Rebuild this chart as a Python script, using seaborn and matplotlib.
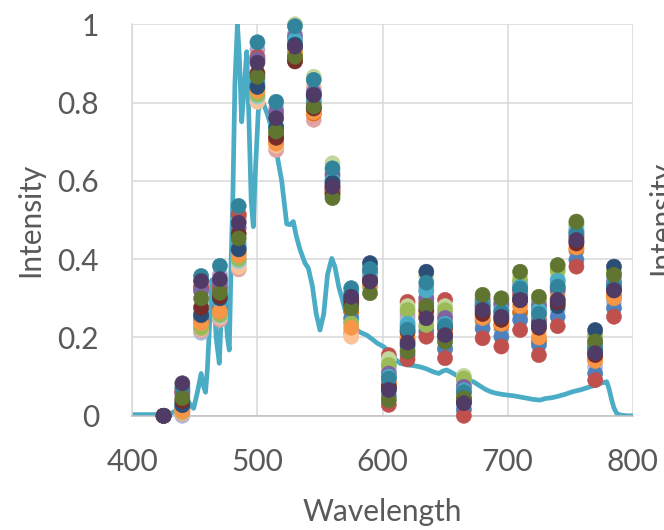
import numpy as np
import pandas as pd
import matplotlib
matplotlib.use("Agg")
import matplotlib.pyplot as plt
import seaborn as sns

# ---------------- data ----------------
wavelengths = [425, 440, 455, 470, 485, 500, 515, 530, 545, 560, 575, 590, 605,
               620, 635, 650, 665, 680, 695, 710, 725, 740, 755, 770, 785]

red_b       = [0, .060, .325, .325, .510, .912, .710, .910, .785, .575, .290, .345, .155, .291, .290, .296, .085, .280, .260, .310, .245, .325, .455, .165, .330]
light_blue  = [0, .000, .212, .249, .388, .812, .700, .925, .770, .575, .215, .330, .060, .170, .225, .175, .020, .240, .220, .260, .195, .270, .420, .125, .290]
pink        = [0, .004, .218, .245, .374, .806, .679, .930, .756, .578, .210, .335, .100, .250, .300, .240, .070, .275, .265, .320, .255, .340, .470, .170, .340]
peach       = [0, .008, .222, .252, .380, .802, .690, .935, .840, .600, .202, .340, .090, .210, .270, .220, .050, .255, .240, .290, .215, .310, .455, .150, .310]
light_green = [0, .030, .280, .290, .398, .820, .730, 1.00, .866, .645, .240, .380, .145, .280, .358, .280, .102, .300, .295, .355, .295, .375, .490, .210, .370]
lavender    = [0, .068, .345, .360, .500, .935, .785, .975, .830, .620, .290, .370, .125, .260, .330, .260, .090, .290, .280, .340, .285, .330, .475, .195, .350]
light_aqua  = [0, .015, .232, .255, .395, .815, .705, .950, .800, .605, .245, .350, .115, .240, .315, .245, .080, .280, .270, .330, .265, .350, .480, .185, .345]
dark_orange = [0, .018, .242, .275, .418, .835, .700, .910, .772, .570, .265, .340, .080, .195, .255, .210, .045, .245, .230, .265, .190, .285, .425, .145, .305]
blue        = [0, .022, .250, .283, .430, .850, .720, .940, .800, .590, .250, .345, .050, .155, .215, .170, .015, .223, .202, .245, .181, .253, .398, .108, .275]
red         = [0, .062, .330, .330, .515, .917, .715, .920, .790, .580, .300, .350, .028, .144, .202, .147, .000, .198, .177, .219, .155, .229, .381, .091, .253]
green       = [0, .010, .224, .258, .400, .820, .720, .930, .780, .570, .236, .330, .130, .270, .232, .270, .095, .290, .290, .345, .290, .370, .488, .205, .365]
purple      = [0, .055, .318, .340, .480, .910, .775, .968, .825, .615, .310, .368, .108, .228, .300, .250, .074, .296, .285, .320, .280, .320, .460, .180, .340]
aqua        = [0, .033, .262, .290, .440, .860, .740, .960, .810, .600, .315, .360, .100, .235, .320, .235, .065, .285, .270, .330, .270, .345, .470, .175, .335]
orange      = [0, .012, .237, .266, .410, .830, .695, .928, .775, .585, .225, .335, .085, .200, .260, .215, .058, .250, .235, .280, .200, .300, .430, .140, .300]
dark_blue   = [0, .027, .257, .300, .425, .840, .735, .948, .820, .595, .285, .390, .070, .180, .368, .200, .035, .265, .250, .300, .235, .280, .445, .219, .381]
dark_red    = [0, .038, .276, .305, .465, .875, .710, .905, .785, .565, .295, .345, .075, .215, .270, .225, .040, .260, .245, .295, .225, .290, .440, .155, .320]
dark_teal   = [0, .072, .357, .383, .536, .954, .802, .995, .858, .632, .326, .375, .095, .220, .340, .230, .060, .280, .265, .325, .260, .330, .465, .170, .330]
dark_green  = [0, .045, .300, .314, .453, .866, .726, .917, .790, .556, .275, .313, .040, .164, .280, .189, .045, .309, .300, .368, .304, .385, .496, .190, .360]
dark_purple = [0, .083, .344, .349, .493, .902, .760, .943, .819, .585, .304, .343, .066, .187, .249, .206, .032, .270, .253, .296, .228, .296, .449, .160, .321]

series_names = ["red_b", "light_blue", "pink", "peach", "light_green", "lavender",
                "light_aqua", "dark_orange", "blue", "red", "green", "purple", "aqua",
                "orange", "dark_blue", "dark_red", "dark_teal", "dark_green",
                "dark_purple"]
series_values = [red_b, light_blue, pink, peach, light_green, lavender, light_aqua,
                 dark_orange, blue, red, green, purple, aqua, orange, dark_blue,
                 dark_red, dark_teal, dark_green, dark_purple]
series_colors = ["#C0504D", "#A9BEE0", "#E0A3A1", "#FBC397", "#C3D69B", "#B3A2C7",
                 "#93CDDD", "#E36C09", "#4F81BD", "#C0504D", "#9BBB59", "#8064A2",
                 "#4BACC6", "#F79646", "#2C4D75", "#772C2A", "#31849B", "#5F7530",
                 "#4F3B66"]

spec_wl = [400, 410, 420, 428, 432, 436, 440, 444, 447, 449, 452, 455, 457, 458.5,
           460, 462, 463.5, 465, 467, 469.5, 471, 472.7, 474, 476, 477.5, 479, 480.3,
           482, 484, 485.5, 487.4, 489, 491.4, 493, 495, 496.7, 498, 500.7, 503, 504.7,
           508, 512.7, 516, 519.4, 523.4, 526, 528.7, 531, 534, 538, 540.7, 544, 547,
           550, 553, 556, 559.4, 562, 565, 568.7, 572, 576, 579.4, 583, 587.4, 592,
           596, 600.6, 605, 610, 614, 620, 625, 630, 635, 640, 645, 648, 651.3, 656.6,
           662, 667, 672.6, 678, 682, 686, 690, 695, 699.3, 705, 710, 715.3, 720, 726,
           730, 735, 739.3, 745, 752.5, 758, 765.9, 770, 773.9, 777, 779.2, 781, 783.2,
           785, 787.2, 790, 795, 800]
spec_int = [0.003, 0.003, 0.003, 0.004, 0.008, 0.015, 0.030, 0.040, 0.025, 0.019, 0.060,
            0.108, 0.075, 0.060, 0.120, 0.250, 0.347, 0.320, 0.200, 0.134, 0.250, 0.355,
            0.300, 0.200, 0.168, 0.400, 0.550, 0.850, 1.000, 0.920, 0.751, 0.820, 0.930,
            0.780, 0.550, 0.483, 0.600, 0.780, 0.800, 0.798, 0.770, 0.720, 0.660, 0.600,
            0.490, 0.488, 0.496, 0.460, 0.425, 0.390, 0.377, 0.330, 0.260, 0.219, 0.260,
            0.360, 0.402, 0.380, 0.330, 0.287, 0.250, 0.225, 0.219, 0.212, 0.206, 0.195,
            0.185, 0.177, 0.165, 0.145, 0.134, 0.130, 0.128, 0.125, 0.120, 0.113, 0.108,
            0.114, 0.117, 0.108, 0.098, 0.091, 0.087, 0.076, 0.068, 0.062, 0.058, 0.055,
            0.053, 0.051, 0.048, 0.045, 0.042, 0.040, 0.044, 0.046, 0.049, 0.054, 0.062,
            0.066, 0.074, 0.078, 0.083, 0.085, 0.087, 0.070, 0.040, 0.020, 0.006, 0.002,
            0.000, 0.000]

x_ticks = [400, 500, 600, 700, 800]
y_ticks = [0, 0.2, 0.4, 0.6, 0.8, 1.0]
y_tick_labels = ["0", "0.2", "0.4", "0.6", "0.8", "1"]

# ---------------- build long table ----------------
frames = []
for name, vals in zip(series_names, series_values):
    frames.append(pd.DataFrame({"Wavelength": wavelengths, "Intensity": vals,
                                "series": name}))
points = pd.concat(frames, ignore_index=True)
spectrum = pd.DataFrame({"Wavelength": spec_wl, "Intensity": spec_int})

# ---------------- plot ----------------
sns.set_theme(style="white")
plt.rcParams["font.family"] = ["Lato", "DejaVu Sans"]

text_col = "#595959"
grid_col = "#D9D9D9"

fig = plt.figure(figsize=(6.64, 5.30), dpi=100)
ax = fig.add_axes([0.1993, 0.2155, 0.7536, 0.7387])

ax.set_xlim(400, 800)
ax.set_ylim(0, 1)
ax.set_xticks(x_ticks)
ax.set_yticks(y_ticks)
ax.set_yticklabels(y_tick_labels)
ax.grid(True, color=grid_col, linewidth=1.1)
ax.set_axisbelow(True)
for side in ["top", "right"]:
    ax.spines[side].set_visible(False)
ax.spines["left"].set_color(grid_col)
ax.spines["left"].set_linewidth(1.1)
ax.spines["bottom"].set_color("#BFBFBF")
ax.spines["bottom"].set_linewidth(1.1)

sns.lineplot(data=spectrum, x="Wavelength", y="Intensity", color="#4BACC6",
             linewidth=3.4, ax=ax, zorder=2)

palette = dict(zip(series_names, series_colors))
sns.scatterplot(data=points, x="Wavelength", y="Intensity", hue="series",
                palette=palette, s=118, linewidth=0.4, edgecolor="face",
                legend=False, ax=ax, clip_on=False, zorder=3)

ax.tick_params(axis="both", which="both", length=0, labelsize=21.5,
               labelcolor=text_col)
ax.tick_params(axis="x", pad=23)
ax.tick_params(axis="y", pad=24)

ax.set_xlabel("Wavelength", fontsize=21.5, color=text_col)
ax.set_ylabel("Intensity", fontsize=21.5, color=text_col)
ax.xaxis.set_label_coords(0.5, -0.211)
ax.yaxis.set_label_coords(-0.1765, 0.5)

# neighbouring chart's axis title, cut off at the right edge
fig.text(0.9745, 0.589, "Intensity", rotation=90, ha="left", va="center",
         fontsize=21.5, color=text_col)

fig.savefig("out.png", dpi=100)
